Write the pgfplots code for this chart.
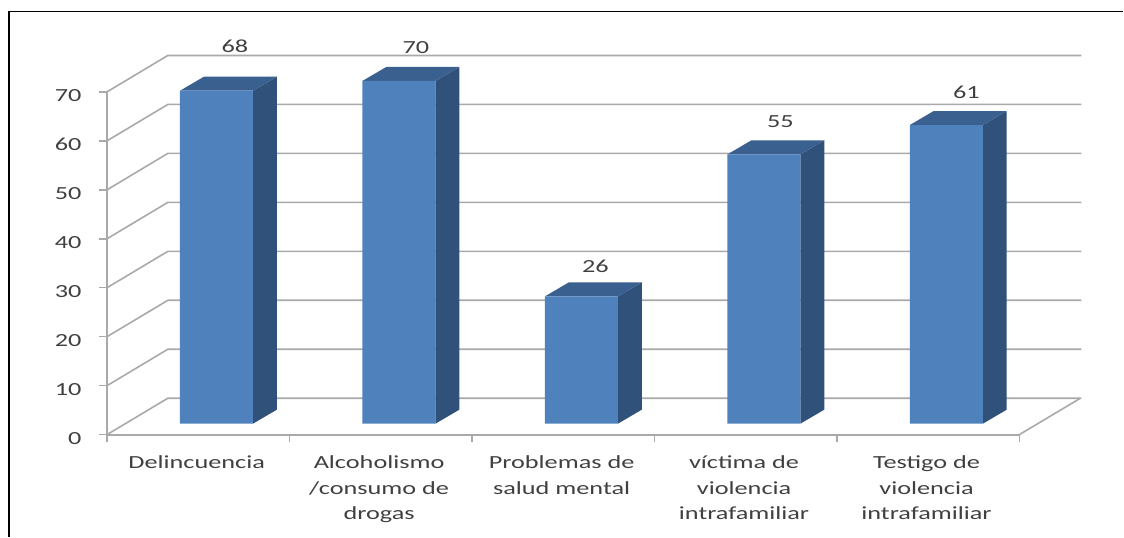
\documentclass[border=0pt]{standalone}
\usepackage{pgfplots}
\usepackage{pgfplotstable}
\usepackage{fontspec}
\setmainfont[FakeStretch=1.42]{Carlito}
\pgfplotsset{compat=1.18}
\definecolor{gridc}{HTML}{A9A9A9}
\definecolor{frontc}{HTML}{4F81BD}
\definecolor{sidec}{HTML}{30527A}
\definecolor{topc}{HTML}{3A6090}
\definecolor{textc}{HTML}{404040}
\pgfplotsset{
  wall/.style={draw=gridc, no marks, forget plot},
  sideface/.style={draw=none, fill=sidec, no marks, forget plot},
  topface/.style={draw=none, fill=topc, no marks, forget plot},
}
% bar values with label offsets from the front top edge
\pgfplotstableread{
cat val lx   ly
0   68  18.5 45
1   70  17   33
2   26  14   30.5
3   55  16.5 32.5
4   61  20   33
}\bars
\begin{document}
\begin{tikzpicture}[x=1pt,y=1pt]
\path (0,0) rectangle (1124,537);
\draw[black, line width=1.6pt] (9,0) -- (9,525.5) -- (1124,525.5);
% value scale, floor and back wall
\begin{axis}[
  at={(107pt,102pt)}, anchor=south west,
  scale only axis, width=913pt, height=343pt,
  xmin=-0.5, xmax=4.5, ymin=0, ymax=70,
  clip=false,
  axis lines*=left,
  axis line style={draw=gridc, line width=2pt, -},
  tick align=outside,
  ytick={0,10,...,70},
  xtick={0,1,2,3,4},
  xticklabels={Delincuencia,
    {Alcoholismo\\/consumo de\\drogas},
    {Problemas de\\salud mental},
    {víctima de\\violencia\\intrafamiliar},
    {Testigo de\\violencia\\intrafamiliar}},
  minor xtick={-0.5,0.5,1.5,2.5,3.5,4.5},
  major tick length=8pt,
  minor tick length=7pt,
  major x tick style={draw=none},
  minor x tick style={draw=gridc, line width=1.4pt},
  ytick style={draw=gridc, line width=1.4pt},
  /pgf/number format/assume math mode=true,
  yticklabel style={font=\fontsize{18.5}{22}\selectfont, text=textc, xshift=-14pt, yshift=-3.5pt},
  xticklabel style={font=\fontsize{18.5}{25.5}\selectfont, text=textc, align=center, anchor=north, yshift=-9.5pt, xshift=-1.5pt},
]
\pgfplotsinvokeforeach{0,10,...,70}{
  \addplot[wall, line width=1.6pt] coordinates {(-0.5,#1) (-0.166,#1+7.45) (4.84,#1+7.45)};
}
\addplot[wall, line width=1.6pt] coordinates {(4.5,0) (4.835,7.45)};
\end{axis}
% three-dimensional columns, value 0 on the front floor line
\begin{axis}[
  at={(125.3pt,113pt)}, anchor=south west,
  scale only axis, width=913pt, height=343pt,
  xmin=-0.5, xmax=4.5, ymin=0, ymax=70,
  clip=false, hide axis,
]
\pgfplotsinvokeforeach{0,...,4}{
  \pgfplotstablegetelem{#1}{val}\of\bars
  \pgfmathsetmacro{\xa}{#1-0.2}
  \pgfmathsetmacro{\xb}{#1+0.2}
  \pgfmathsetmacro{\xc}{#1+0.2+0.131}
  \pgfmathsetmacro{\xd}{#1-0.2+0.131}
  \pgfmathsetmacro{\v}{\pgfplotsretval}
  \pgfmathsetmacro{\vb}{\pgfplotsretval+2.86}
  \edef\drawfaces{
    \noexpand\addplot[sideface] coordinates {(\xb,0) (\xc,2.86) (\xc,\vb) (\xb,\v)} --cycle;
    \noexpand\addplot[topface] coordinates {(\xa,\v) (\xb,\v) (\xc,\vb) (\xd,\vb)} --cycle;
  }
  \drawfaces
}
\addplot[ybar, bar width=73pt, bar shift=0pt, draw=none, fill=frontc,
  visualization depends on={\thisrow{lx}\as\lx},
  visualization depends on={\thisrow{ly}\as\ly},
  nodes near coords,
  nodes near coords align={anchor=center},
  every node near coord/.append style={
    font=\fontsize{18.5}{22}\selectfont, text=textc,
    /pgf/number format/assume math mode=true,
    xshift=\lx pt, yshift=\ly pt},
] table[x=cat, y=val] {\bars};
\end{axis}
\end{tikzpicture}
\end{document}
